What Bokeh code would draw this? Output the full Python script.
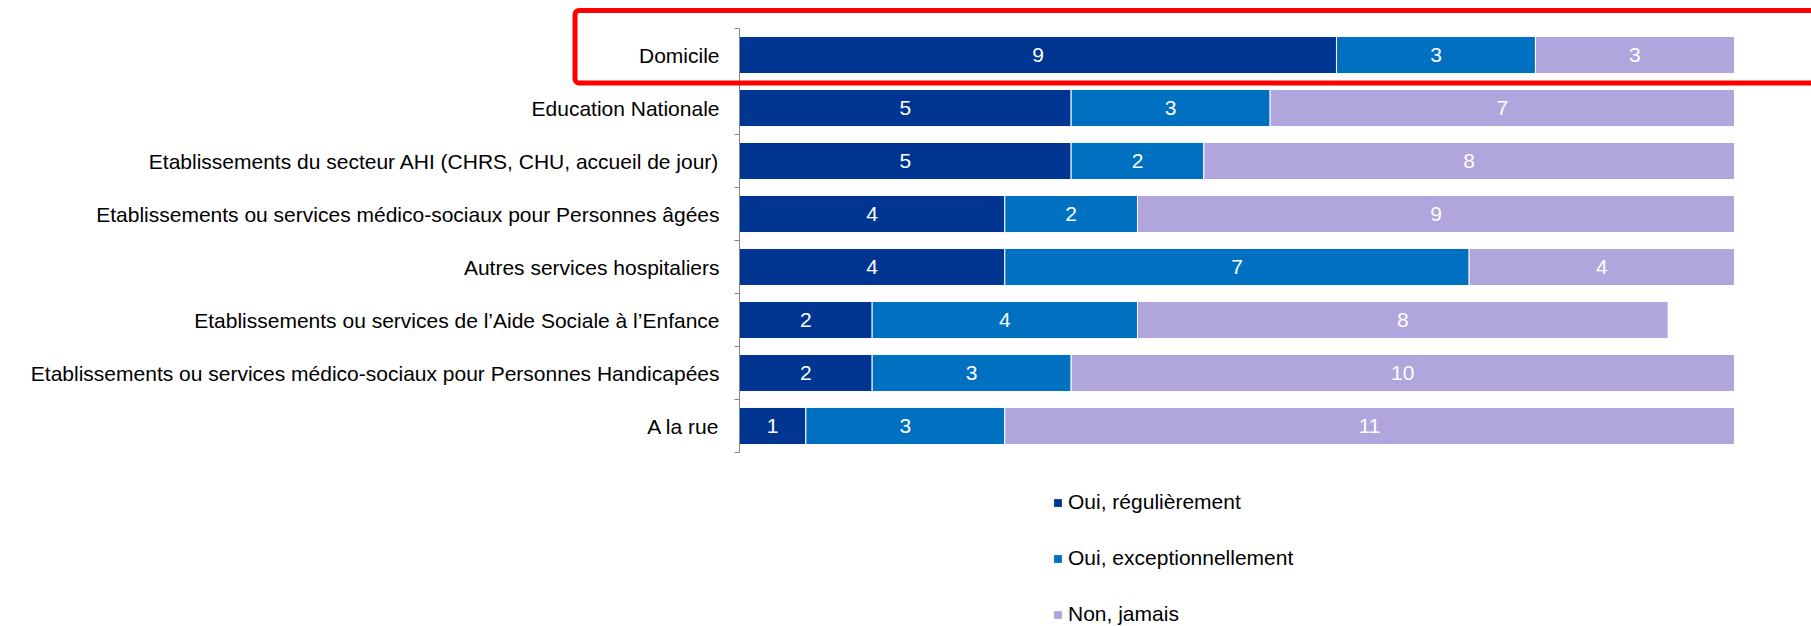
from bokeh.plotting import figure
from bokeh.models import (ColumnDataSource, Range1d, Legend, LegendItem, BoxAnnotation)
from bokeh.core.properties import value
from bokeh.embed import file_html
from bokeh.resources import INLINE

categories = [
    "Domicile",
    "Education Nationale",
    "Etablissements du secteur AHI (CHRS, CHU, accueil de jour)",
    "Etablissements ou services médico-sociaux pour Personnes âgées",
    "Autres services hospitaliers",
    "Etablissements ou services de l’Aide Sociale à l’Enfance",
    "Etablissements ou services médico-sociaux pour Personnes Handicapées",
    "A la rue",
]
series_names = ["Oui, régulièrement", "Oui, exceptionnellement", "Non, jamais"]
regulierement = [9, 5, 5, 4, 4, 2, 2, 1]
exceptionnellement = [3, 3, 2, 2, 7, 4, 3, 3]
jamais = [3, 7, 8, 9, 4, 8, 10, 11]
colors = ["#003591", "#0070C0", "#B0A5DD"]

FONT = "Liberation Sans"
W, H = 1811, 626
AX_X, AX_Y = 739, 28          # pixel position of the value axis origin
ROW = 53.0                    # px per category row
UNIT = 66.33                  # px per value unit
n = len(categories)

# the plotting frame covers the whole canvas so the highlight box can reach outside the bars
p = figure(width=W, height=H, output_backend="svg", toolbar_location=None,
           min_border=0,
           x_range=Range1d(-AX_X / UNIT, (W - AX_X) / UNIT),
           y_range=Range1d((H - AX_Y) / ROW, -AX_Y / ROW))
p.outline_line_color = None
p.grid.visible = False
p.axis.visible = False
p.background_fill_color = "white"
p.border_fill_color = "white"

ys = [i + 0.5 for i in range(n)]
series = [regulierement, exceptionnellement, jamais]
renderers = []
left = [0] * n
for name, vals, col in zip(series_names, series, colors):
    right = [l + v for l, v in zip(left, vals)]
    src = ColumnDataSource(dict(y=ys, left=left, right=right,
                                mid=[(a + b) / 2 for a, b in zip(left, right)],
                                lab=[str(v) for v in vals]))
    r = p.hbar(y="y", left="left", right="right", height=0.7, source=src,
               fill_color=col, line_color="white", line_width=1)
    renderers.append((name, r))
    p.text(x="mid", y="y", text="lab", source=src, text_color="white",
           text_font=value(FONT), text_font_size="21px", text_align="center",
           text_baseline="middle")
    left = right

# category axis: line, boundary ticks and labels
AXIS_COL = "#868686"
p.segment(x0=[0], y0=[0], x1=[0], y1=[n], line_color=AXIS_COL, line_width=1)
bounds = list(range(n + 1))
p.segment(x0=[-5 / UNIT] * len(bounds), y0=bounds, x1=[0] * len(bounds), y1=bounds,
          line_color=AXIS_COL, line_width=1)
p.text(x=[-20 / UNIT] * n, y=ys, text=categories, text_color="black",
       text_font=value(FONT), text_font_size="21px", text_align="right",
       text_baseline="middle")

legend = Legend(items=[LegendItem(label=nm, renderers=[r]) for nm, r in renderers],
                location=(1052, 0), orientation="vertical",
                glyph_width=11, glyph_height=11, label_height=20,
                spacing=32, padding=0, margin=0, label_standoff=5,
                label_text_font=FONT, label_text_font_size="21px",
                label_text_color="black", border_line_color=None,
                background_fill_alpha=0)
p.add_layout(legend)

# red highlight frame around the first row
hl = BoxAnnotation(left=(574.5 - AX_X) / UNIT, right=(W + 20 - AX_X) / UNIT,
                   top=(10 - AX_Y) / ROW, bottom=(82.5 - AX_Y) / ROW,
                   fill_alpha=0, line_color="#FF0000", line_alpha=1.0, line_width=5,
                   border_radius=4)
p.add_layout(hl)

open("out.html", "w").write(file_html(p, INLINE))
